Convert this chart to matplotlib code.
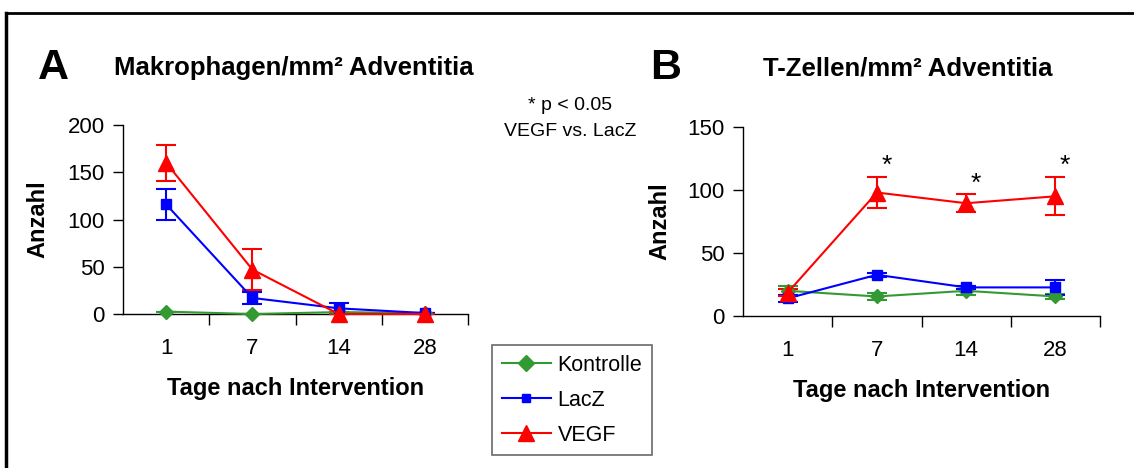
import matplotlib
matplotlib.use("Agg")
import matplotlib.pyplot as plt
from matplotlib.lines import Line2D

plt.rcParams['font.family'] = ['Liberation Sans', 'DejaVu Sans']

tage = ["1", "7", "14", "28"]
serien = ["Kontrolle", "LacZ", "VEGF"]
farben = {"Kontrolle": "#339933", "LacZ": "#0000ff", "VEGF": "#ff0000"}
marker = {"Kontrolle": "D", "LacZ": "s", "VEGF": "^"}
msize = {"Kontrolle": 7, "LacZ": 7, "VEGF": 11}

# A: Makrophagen/mm2
mak_kontrolle = [2.5, 0, 2, 1]
mak_kontrolle_err = [0, 0, 0, 0]
mak_lacz = [116, 17, 6, 1]
mak_lacz_err = [16, 6, 6, 0]
mak_vegf = [160, 47, 0, 0]
mak_vegf_err = [19, 22, 0, 0]

# B: T-Zellen/mm2
tz_kontrolle = [20, 15.5, 20, 15.5]
tz_kontrolle_err = [3.7, 2.5, 3.5, 2]
tz_lacz = [14, 32.7, 22.7, 22.7]
tz_lacz_err = [3, 1.5, 1.5, 5.8]
tz_vegf = [18.5, 98, 89.5, 95]
tz_vegf_err = [3, 12.5, 7, 15]
stern_pos = [1, 2, 3]
stern_y = [119, 105, 119]

fig = plt.figure(figsize=(11.34, 4.68), dpi=100)
W, H = 1134, 468


def panel(rect, daten, ymax, yticks):
    ax = fig.add_axes(rect)
    x = list(range(len(tage)))
    for name, (y, e) in zip(serien, daten):
        ax.errorbar(x, y, yerr=e, color=farben[name], marker=marker[name],
                    ms=msize[name], lw=1.5, elinewidth=1.5, capsize=7,
                    capthick=1.5, clip_on=False, label=name, zorder=3)
    ax.set_xlim(-0.5, len(tage) - 0.5)
    ax.set_ylim(0, ymax)
    ax.set_yticks(yticks)
    ax.set_xticks([i + 0.5 for i in x])
    ax.set_xticklabels([])
    ax.set_xticks(x, minor=True)
    ax.set_xticklabels(tage, minor=True)
    ax.tick_params(axis='x', which='major', direction='out', length=8, width=1)
    ax.tick_params(axis='x', which='minor', length=0, pad=17, labelsize=16)
    ax.tick_params(axis='y', direction='out', length=7, width=1, labelsize=16, pad=6)
    for s in ('top', 'right'):
        ax.spines[s].set_visible(False)
    ax.spines['left'].set_linewidth(1)
    ax.spines['bottom'].set_linewidth(1)
    ax.set_ylabel("Anzahl", fontsize=17, fontweight='bold')
    ax.set_xlabel("Tage nach Intervention", fontsize=17, fontweight='bold', labelpad=13)
    return ax


axA = panel([123 / W, 1 - 314 / H, 345 / W, 189 / H],
            [(mak_kontrolle, mak_kontrolle_err), (mak_lacz, mak_lacz_err),
             (mak_vegf, mak_vegf_err)], 200, [0, 50, 100, 150, 200])
axA.yaxis.set_label_coords(-(123 - 49) / 345, 0.5)
axB = panel([743 / W, 1 - 316 / H, 357 / W, 189 / H],
            [(tz_kontrolle, tz_kontrolle_err), (tz_lacz, tz_lacz_err),
             (tz_vegf, tz_vegf_err)], 150, [0, 50, 100, 150])
axB.yaxis.set_label_coords(-(743 - 671) / 357, 0.5)

for p, y in zip(stern_pos, stern_y):
    axB.annotate("*", (p, y), xytext=(7, 0), textcoords='offset points',
                 ha='center', va='center', fontsize=19)

fig.text(53 / W, 1 - 68 / H, "A", fontsize=31, fontweight='bold', ha='center', va='center')
fig.text(294 / W, 1 - 68 / H, "Makrophagen/mm² Adventitia", fontsize=18.5,
         fontweight='bold', ha='center', va='center')
fig.text(666 / W, 1 - 68 / H, "B", fontsize=31, fontweight='bold', ha='center', va='center')
fig.text(908 / W, 1 - 68 / H, "T-Zellen/mm² Adventitia", fontsize=18.5,
         fontweight='bold', ha='center', va='center')
fig.text(570 / W, 1 - 105 / H, "* p < 0.05", fontsize=14, ha='center', va='center')
fig.text(570 / W, 1 - 132 / H, "VEGF vs. LacZ", fontsize=14, ha='center', va='center')

handles = [Line2D([], [], color=farben[n], marker=marker[n],
                  ms={"Kontrolle": 8, "LacZ": 6, "VEGF": 11}[n], lw=1.5)
           for n in serien]
leg = fig.legend(handles, serien, loc='upper left',
                 bbox_to_anchor=(492 / W, 1 - 345 / H), fontsize=15.5,
                 frameon=True, fancybox=False, edgecolor='#444444',
                 borderpad=0.45, labelspacing=0.65, handlelength=2.3,
                 handletextpad=0.3, borderaxespad=0)
leg.get_frame().set_linewidth(1.2)

# Rahmen
fig.add_artist(Line2D([6 / W, 6 / W], [0, 1 - 13 / H], color='black', lw=2.5,
                      transform=fig.transFigure))
fig.add_artist(Line2D([6 / W, 1], [1 - 13 / H, 1 - 13 / H], color='black', lw=2,
                      transform=fig.transFigure))

fig.savefig("out.png", dpi=100)
